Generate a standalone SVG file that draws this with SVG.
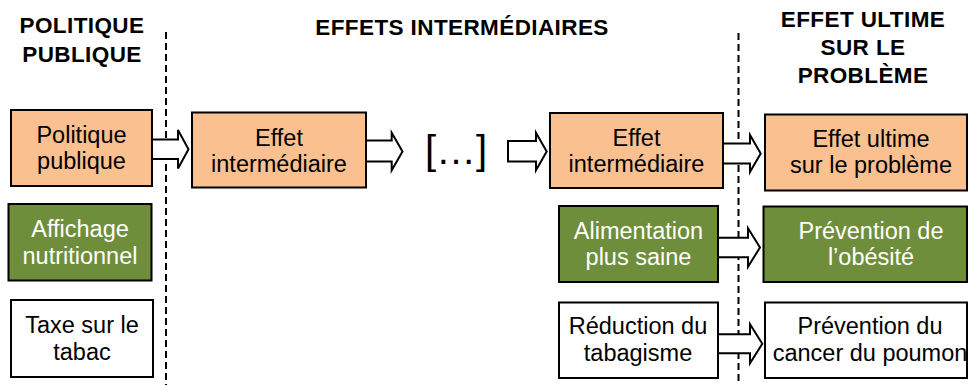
<svg xmlns="http://www.w3.org/2000/svg" width="968" height="385" viewBox="0 0 968 385">
<style>
  text { font-family: "Liberation Sans", Arial, sans-serif; text-anchor: middle; }
  .h { font-weight: bold; font-size: 22.5px; letter-spacing: 0.4px; fill: #000; }
  .t { font-size: 23.5px; fill: #000; }
  .tw { font-size: 23.5px; fill: #fff; }
  .or { fill: #FAC090; stroke: #000; stroke-width: 2; }
  .gr { fill: #6F8E3B; stroke: #000; stroke-width: 2; }
  .wh { fill: #fff; stroke: #000; stroke-width: 2; }
  .dash { stroke: #000; stroke-width: 2; stroke-dasharray: 7 4; fill: none; }
  .arr { fill: #fff; stroke: #000; stroke-width: 2; stroke-linejoin: miter; }
</style>
<rect width="968" height="385" fill="#fff"/>

<g id="headings">
  <text class="h" x="82" y="33">POLITIQUE</text>
  <text class="h" x="82" y="62">PUBLIQUE</text>
  <text class="h" x="462" y="35">EFFETS INTERMÉDIAIRES</text>
  <text class="h" x="863" y="27">EFFET ULTIME</text>
  <text class="h" x="863" y="55">SUR LE</text>
  <text class="h" x="863" y="83">PROBLÈME</text>
</g>

<g id="separators">
  <line class="dash" x1="166" y1="32" x2="166" y2="385"/>
  <line class="dash" x1="738.5" y1="33" x2="738.5" y2="385"/>
</g>

<g id="connectors">
  <path class="arr" d="M151,139.5 H178 V130 L188.5,149.25 L178,168.5 V159 H151"/>
  <path class="arr" d="M365.5,140.5 H391.7 V132.7 L402.5,151.5 L391.7,170.3 V161.5 H365.5"/>
  <path class="arr" d="M508,141 H536 V132.7 L546.7,151.5 L536,170.3 V161.5 H508 Z"/>
  <path class="arr" d="M722.5,143.5 H750 V135 L760.7,153.5 L750,172 V163.5 H722.5"/>
  <path class="arr" d="M717.5,237.7 H748 V228.3 L760,247.5 L748,266.7 V257.3 H717.5"/>
  <path class="arr" d="M717.5,334.3 H750 V324.3 L762.3,343.8 L750,363.3 V353.3 H717.5"/>
</g>

<g id="ellipsis">
  <text x="456" y="164" style="font-size:40px;">[…]</text>
</g>

<g id="n-politique">
  <rect class="or" x="11" y="110" width="141" height="76"/>
  <text class="t" x="81.5" y="142.7">Politique</text>
  <text class="t" x="81.5" y="169.3">publique</text>
</g>
<g id="n-effet1">
  <rect class="or" x="192" y="112.5" width="174" height="75"/>
  <text class="t" x="279" y="145.5">Effet</text>
  <text class="t" x="279" y="172">intermédiaire</text>
</g>
<g id="n-effet2">
  <rect class="or" x="550" y="113" width="173" height="75"/>
  <text class="t" x="636.5" y="145.5">Effet</text>
  <text class="t" x="636.5" y="172">intermédiaire</text>
</g>
<g id="n-ultime">
  <rect class="or" x="765" y="114.5" width="202" height="76"/>
  <text class="t" x="871" y="146.7">Effet ultime</text>
  <text class="t" x="871" y="173.3">sur le problème</text>
</g>

<g id="n-affichage">
  <rect class="gr" x="8.5" y="204" width="143" height="76.5"/>
  <text class="tw" x="80" y="236.7">Affichage</text>
  <text class="tw" x="80" y="264">nutritionnel</text>
</g>
<g id="n-alimentation">
  <rect class="gr" x="559" y="206" width="159" height="76"/>
  <text class="tw" x="638.5" y="239.3">Alimentation</text>
  <text class="tw" x="638.5" y="265">plus saine</text>
</g>
<g id="n-obesite">
  <rect class="gr" x="763.5" y="206.5" width="203.5" height="75.5"/>
  <text class="tw" x="871" y="239.3">Prévention de</text>
  <text class="tw" x="871" y="265">l’obésité</text>
</g>

<g id="n-taxe">
  <rect class="wh" x="11" y="300" width="142" height="77"/>
  <text class="t" x="82" y="333.3">Taxe sur le</text>
  <text class="t" x="82" y="360">tabac</text>
</g>
<g id="n-reduction">
  <rect class="wh" x="559" y="302.5" width="159" height="75.5"/>
  <text class="t" x="638" y="334">Réduction du</text>
  <text class="t" x="638" y="360.7">tabagisme</text>
</g>
<g id="n-cancer">
  <rect class="wh" x="765" y="302.5" width="202" height="75.5"/>
  <text class="t" x="870" y="334">Prévention du</text>
  <text class="t" x="870" y="360.7">cancer du poumon</text>
</g>
</svg>
